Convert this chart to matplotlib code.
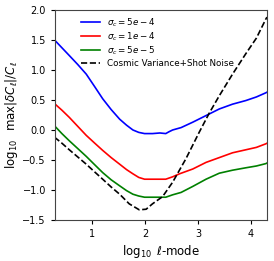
import matplotlib
matplotlib.use("Agg")
import matplotlib.pyplot as plt

# log10 ell-mode positions and log10 max|dC/C| values
x_blue = [0.29, 0.43, 0.57, 0.73, 0.89, 1.05, 1.20, 1.36, 1.52, 1.65, 1.77, 1.88, 1.99, 2.14, 2.28, 2.39, 2.45, 2.52, 2.68, 2.90, 3.15, 3.40, 3.65, 3.90, 4.10, 4.28, 4.30]
y_blue = [1.50, 1.37, 1.24, 1.09, 0.93, 0.72, 0.52, 0.34, 0.18, 0.08, 0.00, -0.04, -0.06, -0.06, -0.05, -0.06, -0.03, 0.00, 0.04, 0.13, 0.24, 0.35, 0.43, 0.49, 0.55, 0.62, 0.63]

x_red = [0.29, 0.43, 0.57, 0.73, 0.89, 1.05, 1.20, 1.36, 1.52, 1.65, 1.77, 1.88, 1.99, 2.14, 2.28, 2.39, 2.52, 2.65, 2.90, 3.15, 3.40, 3.65, 3.90, 4.10, 4.28, 4.30]
y_red = [0.44, 0.33, 0.21, 0.06, -0.09, -0.22, -0.34, -0.46, -0.57, -0.66, -0.73, -0.79, -0.82, -0.82, -0.82, -0.82, -0.78, -0.73, -0.65, -0.54, -0.46, -0.38, -0.33, -0.29, -0.23, -0.22]

x_green = [0.29, 0.43, 0.57, 0.73, 0.89, 1.05, 1.20, 1.36, 1.52, 1.65, 1.77, 1.88, 1.99, 2.14, 2.28, 2.39, 2.52, 2.68, 2.90, 3.15, 3.40, 3.65, 3.90, 4.10, 4.28, 4.30]
y_green = [0.07, -0.06, -0.18, -0.31, -0.44, -0.58, -0.71, -0.83, -0.93, -1.01, -1.07, -1.10, -1.12, -1.12, -1.12, -1.12, -1.08, -1.04, -0.94, -0.82, -0.72, -0.67, -0.63, -0.60, -0.56, -0.55]

x_noise = [0.29, 0.43, 0.57, 0.73, 0.89, 1.05, 1.20, 1.36, 1.52, 1.70, 1.89, 2.02, 2.14, 2.33, 2.52, 2.77, 3.02, 3.21, 3.40, 3.65, 3.90, 4.10, 4.28, 4.30]
y_noise = [-0.12, -0.22, -0.33, -0.45, -0.57, -0.70, -0.82, -0.95, -1.07, -1.23, -1.33, -1.32, -1.23, -1.11, -0.87, -0.48, -0.04, 0.28, 0.57, 0.93, 1.27, 1.53, 1.85, 1.88]

labels = [r"$\sigma_c = 5e-4$", r"$\sigma_c = 1e-4$", r"$\sigma_c = 5e-5$", "Cosmic Variance+Shot Noise"]

fig = plt.figure(figsize=(2.74, 2.61), dpi=100)
ax = fig.add_axes([0.2007, 0.157, 0.7737, 0.805])

ax.plot(x_blue, y_blue, color="blue", lw=1.2, label=labels[0])
ax.plot(x_red, y_red, color="red", lw=1.2, label=labels[1])
ax.plot(x_green, y_green, color="green", lw=1.2, label=labels[2])
ax.plot(x_noise, y_noise, color="black", lw=1.2, ls="--", label=labels[3])

ax.set_xlim(0.30, 4.30)
ax.set_ylim(-1.5, 2.0)
ax.set_xticks([1, 2, 3, 4])
ax.set_yticks([-1.5, -1.0, -0.5, 0.0, 0.5, 1.0, 1.5, 2.0])
ax.tick_params(labelsize=7, length=3, width=0.8)
for s in ax.spines.values():
    s.set_linewidth(0.8)
    s.set_color("#444444")

ax.set_xlabel(r"$\log_{10}$ $\ell$-mode", fontsize=8.5, labelpad=3)
ax.set_ylabel(r"$\log_{10}$  max$|\delta C_\ell|/C_\ell$", fontsize=8.5, labelpad=2)

ax.legend(loc="upper center", frameon=False, fontsize=6.3, handlelength=2.2,
          labelspacing=0.2, borderaxespad=0.3, bbox_to_anchor=(0.485, 1.0))

fig.savefig("out.png", dpi=100)
